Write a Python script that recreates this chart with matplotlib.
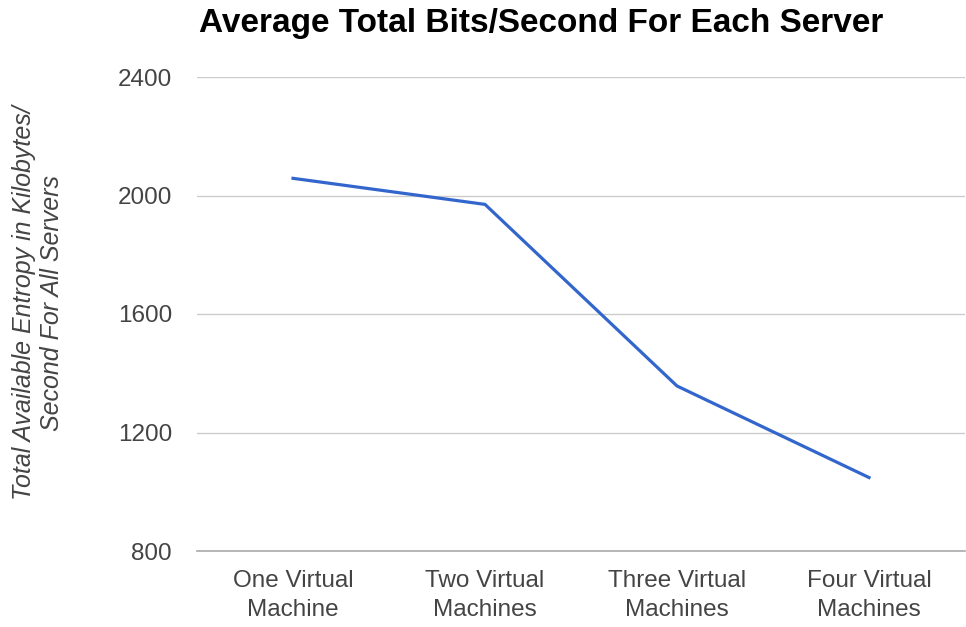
import matplotlib
matplotlib.use("Agg")
import matplotlib.pyplot as plt

# average total entropy per server configuration
categories = ["One Virtual\nMachine", "Two Virtual\nMachines",
              "Three Virtual\nMachines", "Four Virtual\nMachines"]
values = [2058, 1970, 1357, 1048]
y_ticks = [800, 1200, 1600, 2000, 2400]

plt.rcParams["font.family"] = ["Liberation Sans", "DejaVu Sans"]

fig = plt.figure(figsize=(9.66, 6.27), dpi=100)
ax = fig.add_axes([197 / 966, 1 - 551 / 627, 768 / 966, (551 - 77) / 627])

x = list(range(len(categories)))
ax.plot(x, values, color="#3366cc", linewidth=2.3, solid_joinstyle="miter", zorder=3)

ax.set_xlim(-0.5, 3.5)
ax.set_ylim(800, 2400)
ax.set_yticks(y_ticks)
ax.set_xticks(x)
ax.set_xticklabels(categories, linespacing=1.4)
ax.tick_params(axis="both", length=0, labelsize=17.5, colors="#444444")
ax.tick_params(axis="y", pad=18)
ax.tick_params(axis="x", pad=14)

ax.grid(axis="y", color="#cccccc", linewidth=1)
ax.set_axisbelow(True)
for side in ["top", "right", "left"]:
    ax.spines[side].set_visible(False)
ax.spines["bottom"].set_color("#aaaaaa")
ax.spines["bottom"].set_linewidth(1.2)

fig.text(0.039, 1 - 303 / 627, "Total Available Entropy in Kilobytes/\nSecond For All Servers",
         rotation=90, ha="center", va="center", fontsize=18, style="italic",
         color="#444444", multialignment="center", linespacing=1.2)

fig.text(541 / 966, 1 - 32 / 627, "Average Total Bits/Second For Each Server",
         ha="center", va="baseline", fontsize=24, fontweight="bold", color="black")

fig.savefig("out.png", dpi=100)
